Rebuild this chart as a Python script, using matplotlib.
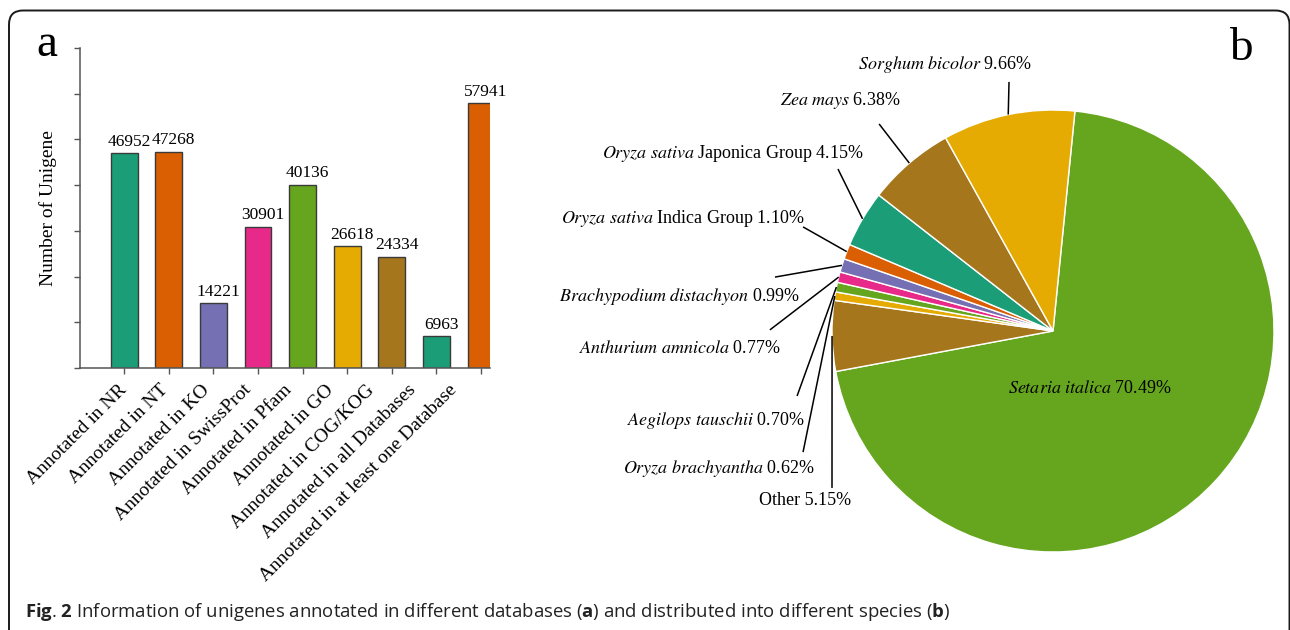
import matplotlib
matplotlib.use("Agg")
import matplotlib.pyplot as plt
from matplotlib.patches import FancyBboxPatch
from matplotlib.transforms import ScaledTranslation
import numpy as np

# ---- panel a: unigenes annotated per database ----
categories = [
    "Annotated in NR",
    "Annotated in NT",
    "Annotated in KO",
    "Annotated in SwissProt",
    "Annotated in Pfam",
    "Annotated in GO",
    "Annotated in COG/KOG",
    "Annotated in all Databases",
    "Annotated in at least one Database",
]
unigene_counts = [46952, 47268, 14221, 30901, 40136, 26618, 24334, 6963, 57941]
bar_colors = ["#1b9e77", "#d95f02", "#7570b3", "#e7298a", "#66a61e",
              "#e6ab02", "#a6761d", "#1b9e77", "#d95f02"]

# ---- panel b: species distribution (clockwise from the top) ----
species_italic = ["Setaria italica", "", "Oryza brachyantha", "Aegilops tauschii",
                  "Anthurium amnicola", "Brachypodium distachyon", "Oryza sativa",
                  "Oryza sativa", "Zea mays", "Sorghum bicolor"]
species_roman = ["", "Other", "", "", "", "", "Indica Group", "Japonica Group", "", ""]
species_share = [70.49, 5.15, 0.62, 0.70, 0.77, 0.99, 1.10, 4.15, 6.38, 9.66]
pie_colors = ["#66a61e", "#a6761d", "#e6ab02", "#66a61e", "#e7298a",
              "#7570b3", "#d95f02", "#1b9e77", "#a6761d", "#e6ab02"]

plt.rcParams.update({
    "font.family": "Liberation Serif",
    "mathtext.fontset": "custom",
    "mathtext.rm": "Open Sans",
    "mathtext.bf": "Open Sans:bold",
    "mathtext.it": "Open Sans:italic",
})

W, H = 1290, 630
fig = plt.figure(figsize=(W / 100, H / 100), dpi=100)


def px_offset(dx, dy):
    """Translation by screen pixels (y up)."""
    return ScaledTranslation(dx / 100, dy / 100, fig.dpi_scale_trans)


# full-figure canvas in pixel units: frame, panel letters, caption
canvas = fig.add_axes([0, 0, 1, 1], zorder=0)
canvas.set_xlim(0, W)
canvas.set_ylim(0, H)
canvas.axis("off")
canvas.add_patch(FancyBboxPatch((9, -20), 1280.5, 639.5,
                                boxstyle="round,pad=0,rounding_size=14",
                                fc="none", ec="#1a1a1a", lw=1.4))
canvas.text(47, H - 56, "a", fontsize=34, ha="center", va="baseline")
canvas.text(1241, H - 60, "b", fontsize=34, ha="center", va="baseline")
caption = (r"$\mathbf{Fig}$. $\mathbf{2}$ Information of unigenes annotated in different "
           r"databases ($\mathbf{a}$) and distributed into different species ($\mathbf{b}$)")
canvas.text(25, H - 612, caption, family="Open Sans", fontsize=13.3,
            ha="left", va="center", color="#222222")

# ---- bar chart ----
ax = fig.add_axes([80 / W, (H - 368) / H, 410 / W, 320 / H], zorder=1)
x = np.arange(len(categories))
ax.bar(x, unigene_counts, width=0.6, color=bar_colors,
       edgecolor="#3a3a3a", linewidth=1.0)
ax.set_xlim(-0.99, 8.2)
ax.set_ylim(0, 70000)
ax.set_yticks(np.arange(0, 70001, 10000))
ax.set_yticklabels([])
ax.set_xticks(x)
ax.set_xticklabels([])
ax.tick_params(direction="out", length=4, width=1, color="#555555")
for side in ("top", "right"):
    ax.spines[side].set_visible(False)
for side in ("left", "bottom"):
    ax.spines[side].set_color("#555555")
    ax.spines[side].set_linewidth(1.1)
ax.set_ylabel("Number of Unigene", fontsize=14)
ax.yaxis.set_label_coords(-0.056, 0.5)

# category labels, slanted, set a little tighter than the bars
for i, name in enumerate(categories):
    ax.text(x[i], 0, name, rotation=45, rotation_mode="anchor",
            ha="right", va="top", fontsize=14,
            transform=ax.get_xaxis_transform() + px_offset(-5.5 - 3.4 * i, -13.5))

for xi, v in zip(x, unigene_counts):
    ax.annotate(str(v), (xi, v), xytext=(3.5, 2.5), textcoords="offset points",
                ha="center", va="bottom", fontsize=12.5)

# ---- pie chart (data units = pie radius) ----
cx, cy, r = 1053, 331, 221
pax = fig.add_axes([540 / W, 0, (W - 540) / W, 1], zorder=1)
wedges, _ = pax.pie(species_share, colors=pie_colors, startangle=84.3,
                    counterclock=False, radius=1,
                    wedgeprops=dict(edgecolor="white", linewidth=1))
pax.set_aspect("auto")
pax.set_xlim((540 - cx) / r, (W - cx) / r)
pax.set_ylim((cy - H) / r, cy / r)
pax.axis("off")


def species_label(italic, roman, share):
    parts = []
    if italic:
        parts.append(r"$\mathit{" + italic.replace(" ", r"\ ") + "}$")
    if roman:
        parts.append(roman)
    parts.append(f"{share:.2f}%")
    return " ".join(parts)


# text centre and leader-line start for each wedge label
label_text_xy = {
    0: (0.167, -0.262),
    1: (-1.122, -0.765),
    2: (-1.511, -0.620),
    3: (-1.525, -0.403),
    4: (-1.688, -0.081),
    5: (-1.688, 0.158),
    6: (-1.674, 0.511),
    7: (-1.448, 0.801),
    8: (-0.964, 1.041),
    9: (-0.489, 1.204),
}
leader_start = {
    1: (-1.0, -0.710),
    2: (-1.131, -0.548),
    3: (-1.158, -0.294),
    4: (-1.281, 0.005),
    5: (-1.258, 0.244),
    6: (-1.131, 0.471),
    7: (-0.973, 0.733),
    8: (-0.787, 0.937),
    9: (-0.199, 1.127),
}

for i, w in enumerate(wedges):
    mid = np.deg2rad((w.theta1 + w.theta2) / 2)
    ex, ey = np.cos(mid), np.sin(mid)
    if i in leader_start:
        sx, sy = leader_start[i]
        pax.plot([sx, ex], [sy, ey], color="black", lw=1.1, solid_capstyle="butt")
    tx, ty = label_text_xy[i]
    pax.text(tx, ty, species_label(species_italic[i], species_roman[i], species_share[i]),
             ha="center", va="center", fontsize=13, math_fontfamily="stix")

fig.savefig("out.png", dpi=100)
